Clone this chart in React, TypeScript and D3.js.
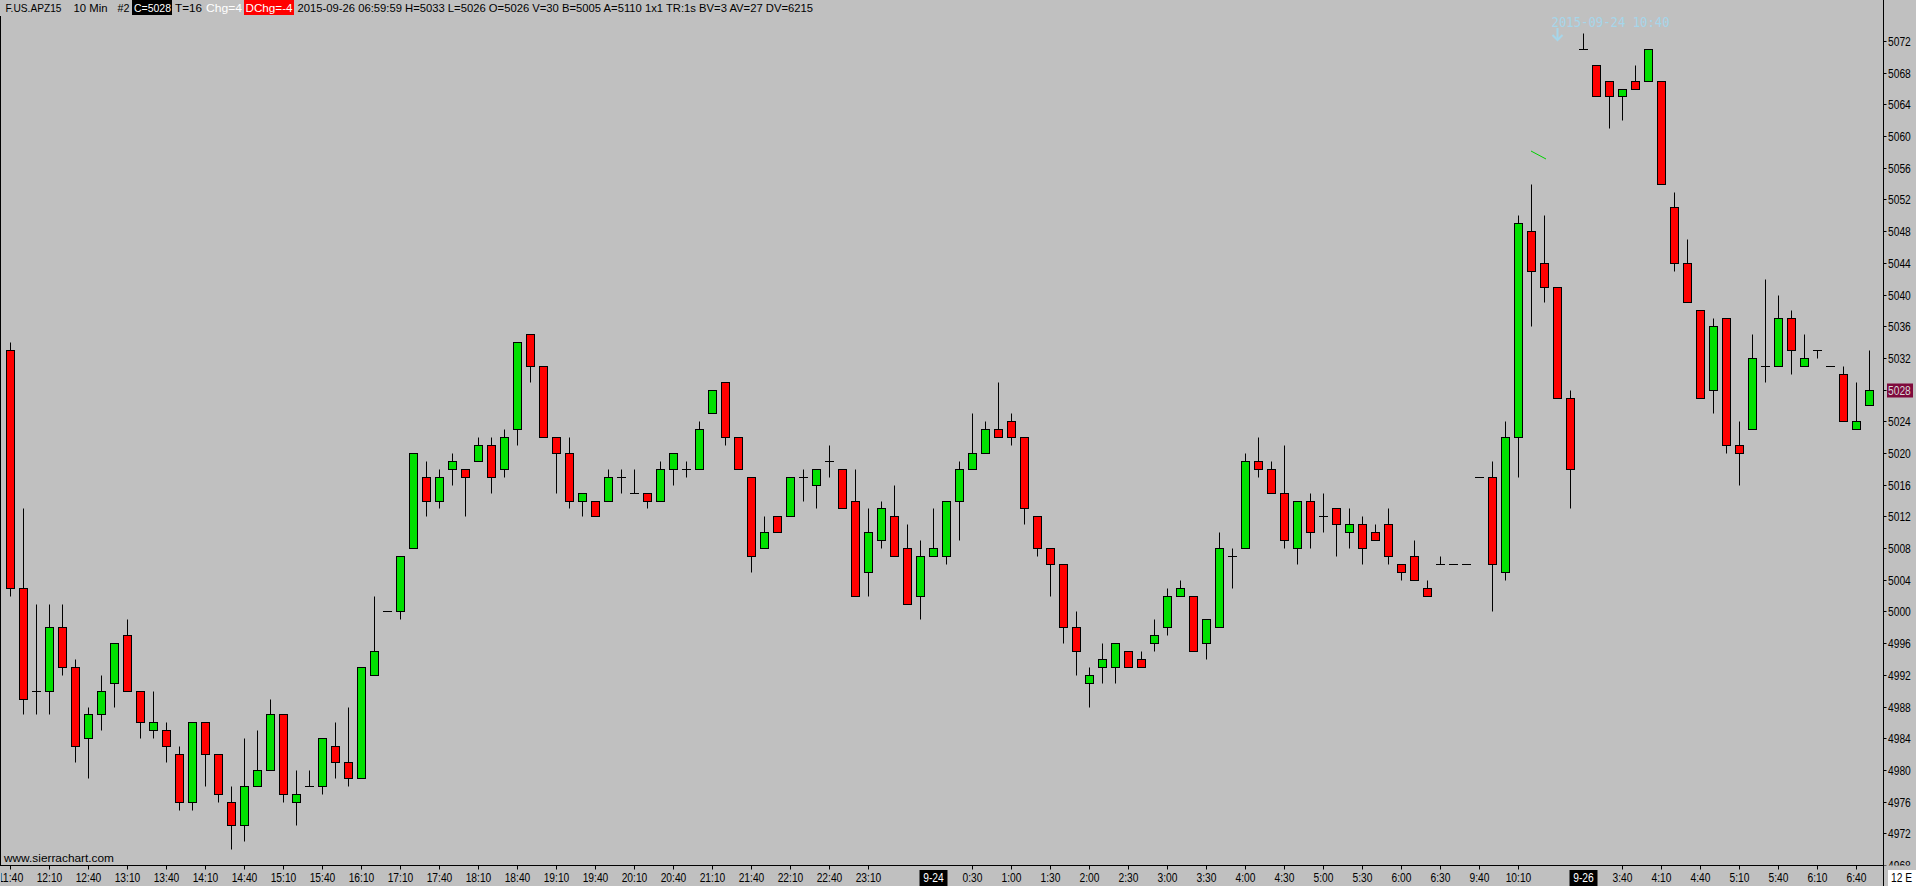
import React from "react";
import * as d3 from "d3";

// ---- OHLC data (10-minute bars) ----
const opens = [
  5033, 5003, 4990, 4990, 4998, 4993, 4984, 4987, 4991, 4997, 4990, 4985, 4985, 4982, 4976, 4986, 4982, 4976, 4973, 4978,
  4980, 4987, 4976, 4978, 4978, 4983, 4981, 4979, 4992, 5000, 5000, 5008, 5017, 5014, 5018, 5018, 5019, 5021, 5018, 5023,
  5035, 5031, 5022, 5020, 5014, 5014, 5014, 5017, 5015, 5015, 5014, 5018, 5018, 5018, 5025, 5029, 5022, 5017, 5008, 5012,
  5012, 5017, 5016, 5019, 5018, 5014, 5005, 5009, 5012, 5008, 5002, 5007, 5007, 5014, 5018, 5020, 5023, 5024, 5022, 5012,
  5008, 5006, 4998, 4991, 4993, 4993, 4995, 4994, 4996, 4998, 5002, 5002, 4996, 4998, 5007, 5008, 5019, 5018, 5015, 5008,
  5014, 5012, 5013, 5010, 5011, 5010, 5011, 5006, 5007, 5003, 5006, 5006, 5006, 5017, 5017, 5005, 5022, 5048, 5044, 5041,
  5027, 5071, 5069, 5067, 5065, 5067, 5067, 5067, 5051, 5044, 5038, 5028, 5037, 5021, 5023, 5031, 5031, 5037, 5031, 5033,
  5031, 5030, 5023, 5026,
];
const highs = [
  5034, 5013, 5001, 5001, 5001, 4994, 4988, 4992, 4996, 4999, 4990, 4990, 4986, 4983, 4986, 4986, 4982, 4978, 4984, 4985,
  4989, 4987, 4980, 4980, 4984, 4986, 4988, 4993, 5002, 5000, 5007, 5020, 5019, 5018, 5020, 5018, 5022, 5022, 5023, 5034,
  5035, 5031, 5022, 5022, 5015, 5014, 5018, 5018, 5018, 5015, 5019, 5020, 5019, 5024, 5028, 5029, 5022, 5017, 5012, 5012,
  5017, 5018, 5018, 5021, 5018, 5018, 5013, 5014, 5016, 5011, 5009, 5013, 5014, 5019, 5025, 5024, 5029, 5025, 5022, 5012,
  5008, 5006, 5000, 4993, 4996, 4996, 4995, 4995, 4999, 5003, 5004, 5002, 4999, 5010, 5008, 5020, 5022, 5019, 5021, 5014,
  5015, 5015, 5013, 5013, 5012, 5011, 5013, 5006, 5009, 5004, 5007, 5006, 5006, 5017, 5019, 5024, 5050, 5054, 5050, 5041,
  5028, 5073, 5069, 5067, 5066, 5069, 5071, 5067, 5053, 5047, 5038, 5037, 5037, 5024, 5035, 5042, 5040, 5038, 5035, 5033,
  5031, 5031, 5029, 5033,
];
const lows = [
  5002, 4987, 4987, 4987, 4992, 4981, 4979, 4985, 4988, 4990, 4984, 4984, 4981, 4975, 4975, 4978, 4976, 4970, 4971, 4978,
  4980, 4976, 4973, 4978, 4977, 4979, 4978, 4979, 4992, 5000, 4999, 5008, 5012, 5013, 5016, 5012, 5019, 5015, 5017, 5021,
  5029, 5022, 5015, 5013, 5012, 5012, 5014, 5015, 5015, 5013, 5014, 5016, 5017, 5018, 5025, 5021, 5018, 5005, 5008, 5010,
  5012, 5014, 5013, 5017, 5013, 5002, 5002, 5008, 5007, 5001, 4999, 5007, 5006, 5009, 5018, 5020, 5022, 5021, 5011, 5007,
  5002, 4996, 4992, 4988, 4991, 4991, 4993, 4993, 4995, 4997, 5002, 4995, 4994, 4998, 5003, 5008, 5017, 5015, 5008, 5006,
  5008, 5010, 5007, 5008, 5006, 5009, 5006, 5004, 5004, 5002, 5006, 5006, 5006, 5017, 5000, 5004, 5017, 5036, 5039, 5027,
  5013, 5071, 5065, 5061, 5062, 5066, 5067, 5054, 5043, 5039, 5027, 5025, 5020, 5016, 5023, 5029, 5031, 5030, 5031, 5032,
  5031, 5024, 5023, 5026,
];
const closes = [
  5003, 4989, 4990, 4998, 4993, 4983, 4987, 4990, 4996, 4990, 4986, 4986, 4983, 4976, 4986, 4982, 4977, 4973, 4978, 4980,
  4987, 4977, 4977, 4978, 4984, 4981, 4979, 4993, 4995, 5000, 5007, 5020, 5014, 5017, 5019, 5017, 5021, 5017, 5022, 5034,
  5031, 5022, 5020, 5014, 5015, 5012, 5017, 5017, 5015, 5014, 5018, 5020, 5018, 5023, 5028, 5022, 5018, 5007, 5010, 5010,
  5017, 5017, 5018, 5019, 5013, 5002, 5010, 5013, 5007, 5001, 5007, 5008, 5014, 5018, 5020, 5023, 5022, 5022, 5013, 5008,
  5006, 4998, 4995, 4992, 4994, 4996, 4993, 4993, 4997, 5002, 5003, 4995, 4999, 5008, 5007, 5019, 5018, 5015, 5009, 5014,
  5010, 5012, 5011, 5011, 5008, 5009, 5007, 5005, 5004, 5002, 5006, 5006, 5006, 5017, 5006, 5022, 5049, 5043, 5041, 5027,
  5018, 5071, 5065, 5065, 5066, 5066, 5071, 5054, 5044, 5039, 5027, 5036, 5021, 5020, 5032, 5031, 5037, 5033, 5032, 5033,
  5031, 5024, 5024, 5028,
];

// ---- time axis labels (bar index, 0-based) ----
const timeTickBars = [0, 3, 6, 9, 12, 15, 18, 21, 24, 27, 30, 33, 36, 39, 42, 45, 48, 51, 54, 57, 60, 63, 66,
  74, 77, 80, 83, 86, 89, 92, 95, 98, 101, 104, 107, 110, 113, 116, 124, 127, 130, 133, 136, 139, 142];
const timeTickLabels = ["11:40", "12:10", "12:40", "13:10", "13:40", "14:10", "14:40", "15:10", "15:40", "16:10",
  "17:10", "17:40", "18:10", "18:40", "19:10", "19:40", "20:10", "20:40", "21:10", "21:40", "22:10", "22:40", "23:10",
  "0:30", "1:00", "1:30", "2:00", "2:30", "3:00", "3:30", "4:00", "4:30", "5:00", "5:30", "6:00", "6:30", "9:40",
  "10:10", "3:40", "4:10", "4:40", "5:10", "5:40", "6:10", "6:40"];
const dateTickBars = [71, 121];
const dateTickLabels = ["9-24", "9-26"];

// ---- price axis ticks ----
const priceTicks = [4968, 4972, 4976, 4980, 4984, 4988, 4992, 4996, 5000, 5004, 5008, 5012, 5016, 5020, 5024, 5028,
  5032, 5036, 5040, 5044, 5048, 5052, 5056, 5060, 5064, 5068, 5072];
const lastPrice = 5028;
const annotationBar = 119;
const annotationText = "2015-09-24 10:40";

const UP = "#00e000";
const DOWN = "#ff0000";
const BG = "#c0c0c0";
const FONT = "'Liberation Sans Narrow', 'Liberation Sans', Arial, sans-serif";

const NARROW: Record<string, number> = { ":": 0.228, "-": 0.273, " ": 0.228, E: 0.547 };
function narrowWidth(s: string, fs: number) {
  let w = 0;
  for (const c of s) w += (NARROW[c] ?? 0.456) * fs;
  return w;
}

export default function App() {
  const W = 1916;
  const H = 886;
  const axisX = 1883.5;
  const axisY = 865.5;

  const x = d3.scaleLinear().domain([0, opens.length - 1]).range([10.5, 1869.5]);
  const y = d3.scaleLinear().domain([4972, 5072]).range([833.3, 41]);
  const py = (v: number) => Math.round(y(v)) + 0.5;
  const fs = 12.5;

  const header: { t: string; x: number; w: number; fill: string; bg?: string; bx?: number; bw?: number }[] = [
    { t: "F.US.APZ15", x: 5.5, w: 56, fill: "#000" },
    { t: "10 Min", x: 73.5, w: 34, fill: "#000" },
    { t: "#2", x: 117.5, w: 12, fill: "#000" },
    { t: "C=5028", x: 134, w: 37, fill: "#fff", bg: "#000", bx: 132, bw: 40 },
    { t: "T=16", x: 175, w: 27, fill: "#000" },
    { t: "Chg=4", x: 206, w: 36, fill: "#fff" },
    { t: "DChg=-4", x: 245.5, w: 47, fill: "#fff", bg: "#ff0000", bx: 244, bw: 50 },
    {
      t: "2015-09-26 06:59:59 H=5033 L=5026 O=5026 V=30 B=5005 A=5110 1x1 TR:1s BV=3 AV=27 DV=6215",
      x: 297.5, w: 515.5, fill: "#000",
    },
  ];

  return (
    <div style={{ position: "fixed", left: 0, top: 0, width: W, height: H }}>
      <svg width={W} height={H} style={{ display: "block" }} fontFamily={FONT}>
        <defs>
          <clipPath id="plot">
            <rect x={1} y={0} width={axisX - 1} height={axisY} />
          </clipPath>
          <clipPath id="paxis">
            <rect x={axisX} y={18} width={W - axisX} height={axisY - 18} />
          </clipPath>
          <clipPath id="taxis">
            <rect x={1} y={axisY} width={axisX - 1} height={H - axisY} />
          </clipPath>
        </defs>
        <rect x={0} y={0} width={W} height={H} fill={BG} />

        {/* candles */}
        <g clipPath="url(#plot)">
          {opens.map((o, i) => {
            const c = closes[i];
            const cx = x(i);
            const hi = highs[i];
            const lo = lows[i];
            const els: React.ReactNode[] = [];
            if (hi !== lo) {
              els.push(<line key="w" x1={cx} x2={cx} y1={py(hi)} y2={py(lo)} stroke="#000" strokeWidth={1} />);
            }
            if (o === c) {
              els.push(<line key="d" x1={cx - 4.5} x2={cx + 4.5} y1={py(o)} y2={py(o)} stroke="#000" strokeWidth={1} />);
            } else {
              const top = py(Math.max(o, c));
              const bot = py(Math.min(o, c));
              els.push(
                <rect key="b" x={cx - 4} y={top} width={8} height={bot - top}
                  fill={c > o ? UP : DOWN} stroke="#000" strokeWidth={1} />
              );
            }
            return <g key={i}>{els}</g>;
          })}
          {/* small green drawing fragment */}
          <line x1={1531} y1={151} x2={1546} y2={159} stroke="#00d000" strokeWidth={1} />
          {/* annotation */}
          <text x={x(annotationBar) - 6} y={27} fontFamily="'DejaVu Sans Mono', monospace" fontSize={14}
            fill="#a6d6ea" textLength={118} lengthAdjust="spacingAndGlyphs">{annotationText}</text>
          <g stroke="#a6d6ea" strokeWidth={2} fill="none">
            <line x1={x(annotationBar)} x2={x(annotationBar)} y1={28} y2={40} />
            <polyline points={`${x(annotationBar) - 5},35 ${x(annotationBar)},40 ${x(annotationBar) + 5},35`} />
          </g>
          <text x={4} y={862} fontSize={11.5} fill="#000" textLength={110} lengthAdjust="spacingAndGlyphs">
            www.sierrachart.com
          </text>
        </g>

        {/* header */}
        {header.map((h, i) => (
          <g key={i}>
            {h.bg && <rect x={h.bx} y={0} width={h.bw} height={15} fill={h.bg} />}
            <text x={h.x} y={11.5} fontSize={11.5} fill={h.fill} textLength={h.w} lengthAdjust="spacingAndGlyphs">
              {h.t}
            </text>
          </g>
        ))}

        {/* axis lines */}
        <line x1={0.5} x2={0.5} y1={16} y2={axisY} stroke="#000" />
        <line x1={axisX} x2={axisX} y1={0} y2={H} stroke="#000" />
        <line x1={0} x2={axisX} y1={axisY} y2={axisY} stroke="#000" />

        {/* price axis */}
        <g clipPath="url(#paxis)">
          {priceTicks.map((p) => {
            const yy = py(p);
            const lbl = String(p);
            return (
              <g key={p}>
                <line x1={axisX} x2={axisX + 3} y1={yy} y2={yy} stroke="#000" />
                <text x={1888} y={yy + 4.5} fontSize={fs} fill="#000"
                  textLength={narrowWidth(lbl, fs)} lengthAdjust="spacingAndGlyphs">{lbl}</text>
              </g>
            );
          })}
          <rect x={1887} y={py(lastPrice) - 7} width={26} height={14} fill="#7f0a3c" />
          <text x={1888} y={py(lastPrice) + 4.5} fontSize={fs} fill="#d8d8d8"
            textLength={narrowWidth(String(lastPrice), fs)} lengthAdjust="spacingAndGlyphs">{lastPrice}</text>
        </g>

        {/* time axis */}
        <g clipPath="url(#taxis)">
          {timeTickBars.map((b, k) => {
            const cx = x(b);
            const lbl = timeTickLabels[k];
            const w = narrowWidth(lbl, fs);
            return (
              <g key={k}>
                <line x1={cx} x2={cx} y1={axisY} y2={axisY + 4} stroke="#000" />
                <text x={cx - w / 2} y={881.5} fontSize={fs} fill="#000" textLength={w}
                  lengthAdjust="spacingAndGlyphs">{lbl}</text>
              </g>
            );
          })}
          {dateTickBars.map((b, k) => {
            const cx = x(b);
            const lbl = dateTickLabels[k];
            const w = narrowWidth(lbl, fs);
            return (
              <g key={"d" + k}>
                <rect x={cx - 14} y={870} width={28} height={16} fill="#000" />
                <text x={cx - w / 2} y={881.5} fontSize={fs} fill="#fff" textLength={w}
                  lengthAdjust="spacingAndGlyphs">{lbl}</text>
              </g>
            );
          })}
        </g>

        {/* corner box */}
        <rect x={1888} y={870} width={28} height={16} fill="#fff" />
        <text x={1891} y={882} fontSize={fs} fill="#000" textLength={narrowWidth("12 E", fs)}
          lengthAdjust="spacingAndGlyphs">12 E</text>
      </svg>
    </div>
  );
}
